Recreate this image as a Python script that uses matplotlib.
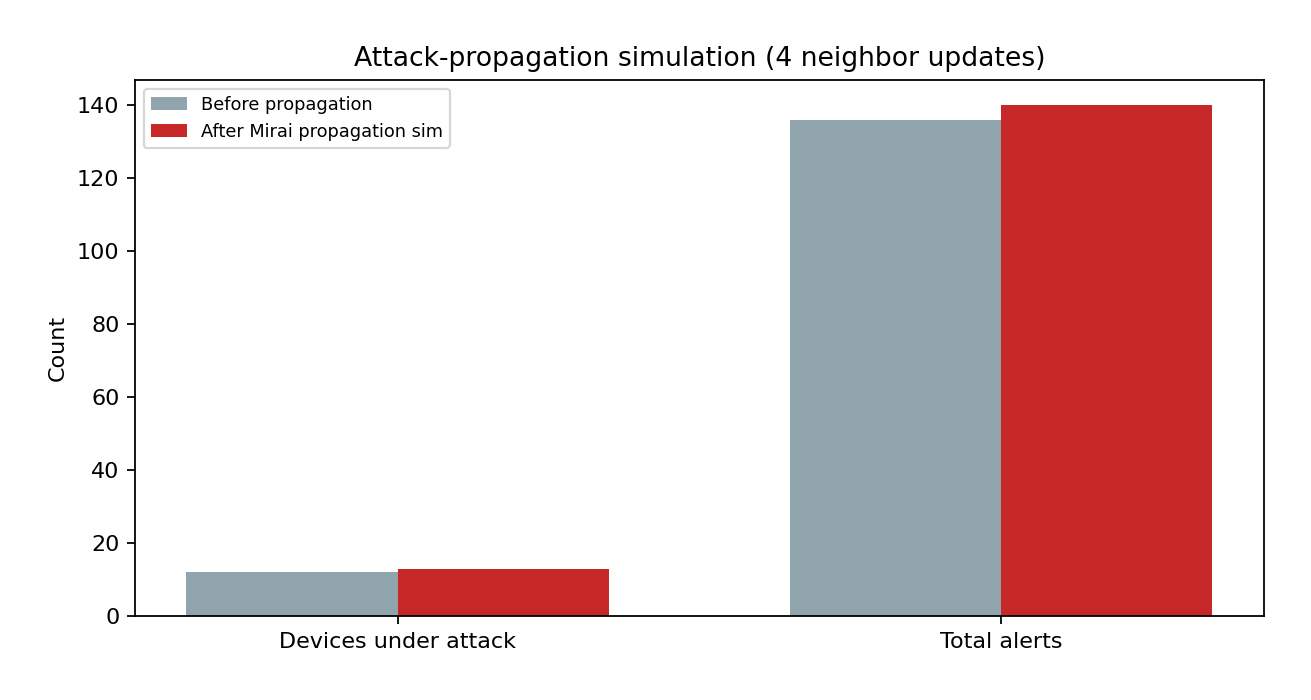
import matplotlib
matplotlib.use('Agg')
import matplotlib.pyplot as plt
import numpy as np

# Chart data
categories = ['Devices under attack', 'Total alerts']
before_vals = [12, 136]
after_vals = [13, 140]
series_labels = ['Before propagation', 'After Mirai propagation sim']

fig = plt.figure(figsize=(1311 / 160, 700 / 160), dpi=160)
ax = fig.add_axes([0.103, 0.12, 0.861, 0.766])

x = np.arange(len(categories))
w = 0.35
ax.bar(x - w / 2, before_vals, w, color='#90A4AE', label=series_labels[0])
ax.bar(x + w / 2, after_vals, w, color='#C62828', label=series_labels[1])

ax.set_xticks(x)
ax.set_xticklabels(categories)
ax.set_ylabel('Count')
ax.set_title('Attack-propagation simulation (4 neighbor updates)')
ax.legend(fontsize=8, loc='upper left')

plt.savefig('out.png', dpi=160)
